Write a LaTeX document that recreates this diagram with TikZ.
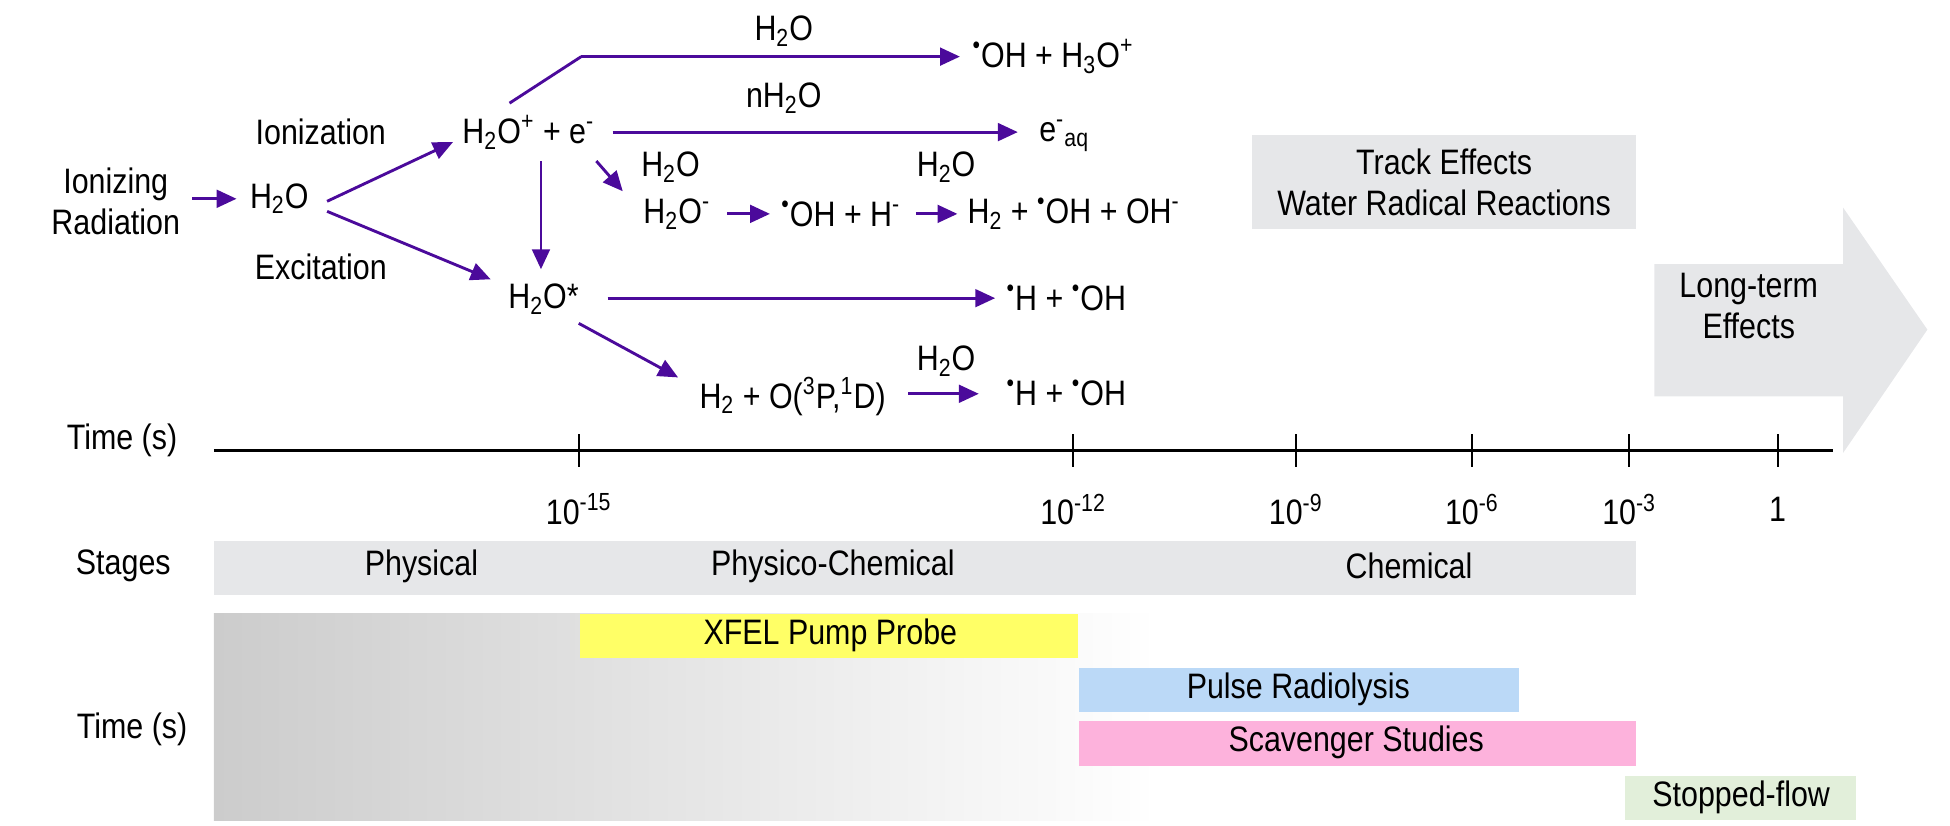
\documentclass[tikz,border=0pt]{standalone}
\usepackage{fontspec}
\setmainfont{Liberation Sans}[FakeStretch=0.86]
\usetikzlibrary{arrows.meta,positioning,shapes.arrows}
\definecolor{rxn}{HTML}{4B0A9B}
\definecolor{bargray}{HTML}{E6E7E9}
\definecolor{pulseblue}{HTML}{BBD9F7}
\definecolor{scavpink}{HTML}{FDB2DC}
\definecolor{flowgreen}{HTML}{E2EFDA}
\definecolor{xfelyellow}{HTML}{FFFF66}
\newcommand{\rad}{\textsuperscript{\textbullet}}
\newcommand{\water}{H\textsubscript{2}O}

\begin{document}
\begin{tikzpicture}[x=0.02cm, y=-0.02cm,
    every node/.style={font=\fontsize{16}{18.5}\selectfont, inner sep=1pt},
    rx/.style={draw=rxn, line width=1.3pt, -{Triangle[length=9pt,width=8pt]}},
    bar/.style={anchor=north west, inner sep=0pt},
    tick/.style={draw, line width=1pt}]
    \useasboundingbox (0,0) rectangle (1550,656);

    % reactions
    \node (rad) [align=center] at (92,160) {Ionizing\\Radiation};
    \node (water) at (222,158) {\water};
    \node (ion) at (255,105) {Ionization};
    \node (exc) at (255,212) {Excitation};
    \node (cation) at (420,105) {\water\textsuperscript{+} + e\textsuperscript{-}};
    \node (excited) at (432,238) {\water*};
    \node (hydro) [anchor=west] at (771,45) {\rad OH + H\textsubscript{3}O\textsuperscript{+}};
    \node (eaq) [anchor=west] at (824,108) {e\textsuperscript{-}\textsubscript{aq}};
    \node (wminus) at (538,170) {\water\textsuperscript{-}};
    \node (ohh) [anchor=west] at (619,170) {\rad OH + H\textsuperscript{-}};
    \node (prod) [anchor=west] at (767,170) {H\textsubscript{2} + \rad OH + OH\textsuperscript{-}};
    \node (hoh) [anchor=west] at (798,237) {\rad H + \rad OH};
    \node (oxy) at (630,315) {H\textsubscript{2} + O(\textsuperscript{3}P,\textsuperscript{1}D)};
    \node (hoh2) [anchor=west] at (798,312) {\rad H + \rad OH};
    \node at (623,25) {\water};
    \node at (623,78) {n\water};
    \node at (533,133) {\water};
    \node at (752,133) {\water};
    \node at (752,287) {\water};

    \coordinate (bend) at (462,45);
    \draw [rx] (153,158) -- (188,158);
    \draw [rx] (260,160) -- (360,113);
    \draw [rx] (260,168) -- (390,222);
    \draw [rx, -] (405,82) -- (bend);
    \draw [rx] (bend) -- (763,45);
    \draw [rx] (487,105) -- (809,105);
    \draw [rx] (474,128) -- (495,152);
    \draw [rx] (430,128) -- (430,214);
    \draw [rx] (578,170) -- (612,170);
    \draw [rx] (728,170) -- (761,170);
    \draw [rx] (483,237) -- (791,237);
    \draw [rx] (460,257) -- (539,300);
    \draw [rx] (722,313) -- (778,313);

    % track effects and long-term arrow
    \node (track) [bar, fill=bargray, minimum width=305*0.02cm, minimum height=75*0.02cm] at (995,107) {};
    \node [align=center] at (track.center) {Track Effects\\Water Radical Reactions};
    \fill [bargray] (1315,210) -- (1465,210) -- (1465,165) -- (1532,262) -- (1465,360) -- (1465,315) -- (1315,315) -- cycle;
    \node (long) [align=center] at (1390,243) {Long-term\\Effects};

    % time axis
    \node (time) at (97,350) {Time (s)};
    \draw [line width=1pt] (170,358) -- (1457,358);
    \foreach \x/\lab in {460/{-15}, 853/{-12}, 1030/{-9}, 1170/{-6}, 1295/{-3}} {
        \draw [tick] (\x,345) -- (\x,371);
        \node at (\x,405) {10\textsuperscript{\lab}};
    }
    \draw [tick] (1413,345) -- (1413,371);
    \node at (1413,405) {1};

    % stages
    \node (stages) at (98,450) {Stages};
    \fill [bargray] (170,430) rectangle (1300,473);
    \node at (335,450) {Physical};
    \node at (662,450) {Physico-Chemical};
    \node at (1120,450) {Chemical};

    % methods
    \shade [left color=black!20, right color=white] (170,488) rectangle (920,652);
    \node (time2) at (105,580) {Time (s)};
    \fill [xfelyellow] (461,488) rectangle (857,523);
    \node (xfel) at (660,505) {XFEL Pump Probe};
    \fill [pulseblue] (858,531) rectangle (1207,566);
    \node (pulse) at (1032,548) {Pulse Radiolysis};
    \fill [scavpink] (858,573) rectangle (1300,609);
    \node (scav) at (1078,590) {Scavenger Studies};
    \fill [flowgreen] (1292,617) rectangle (1475,652);
    \node (stop) at (1384,634) {Stopped-flow};
\end{tikzpicture}
\end{document}
